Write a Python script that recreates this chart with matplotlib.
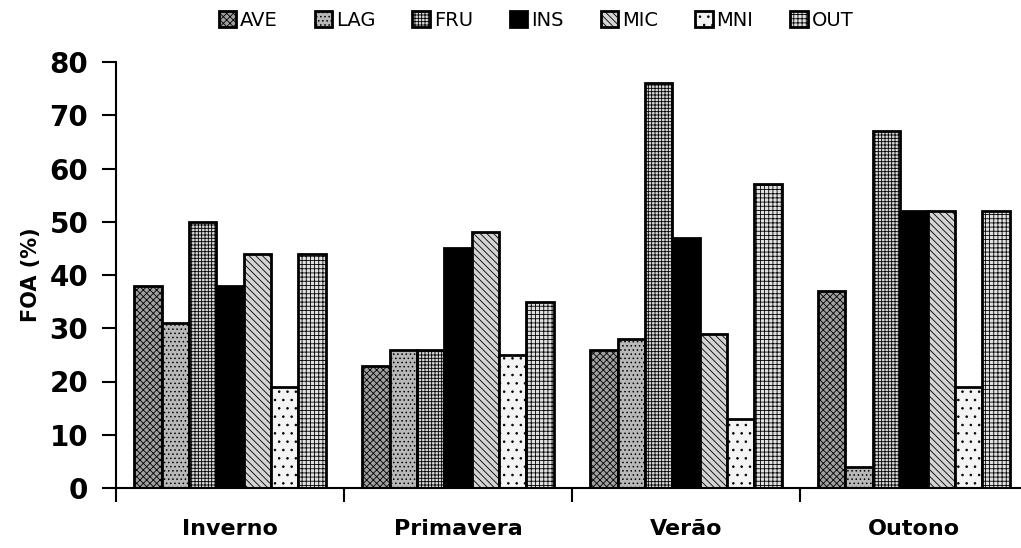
import numpy as np
import matplotlib
matplotlib.use('agg')
from matplotlib import pyplot as plt

seasons = ["Inverno", "Primavera", "Verão", "Outono"]
series = ["AVE", "LAG", "FRU", "INS", "MIC", "MNI", "OUT"]
ave = [38, 23, 26, 37]
lag = [31, 26, 28, 4]
fru = [50, 26, 76, 67]
ins = [38, 45, 47, 52]
mic = [44, 48, 29, 52]
mni = [19, 25, 13, 19]
out = [44, 35, 57, 52]
values = [ave, lag, fru, ins, mic, mni, out]

faces = ["#a0a0a0", "#b8b8b8", "#d8d8d8", "#000000", "#d4d4d4", "#f4f4f4", "#e0e0e0"]
hatches = ["xxxxx", "....", "+++++", "", "\\\\\\\\\\", "..", "++++"]

plt.rcParams['hatch.linewidth'] = 0.6
plt.rcParams['font.family'] = ['DejaVu Sans']

fig = plt.figure(figsize=(10.21, 5.48), dpi=100)
ax = fig.add_axes([116/1021, 60/548, 905/1021, 426/548])

x = np.arange(len(seasons))
w = 0.12
for i, (name, v) in enumerate(zip(series, values)):
    ax.bar(x + (i - 3) * w, v, w, facecolor=faces[i], edgecolor='black',
           hatch=hatches[i], linewidth=2, label=name)

ax.set_xlim(-0.5, 3.47)
ax.set_ylim(0, 80)
ax.set_yticks(range(0, 81, 10))
ax.tick_params(axis='y', labelsize=20, width=1.5, length=10, pad=10)
for t in ax.get_yticklabels():
    t.set_fontweight('bold')
ax.set_xticks(x)
ax.set_xticklabels(seasons, fontsize=16, fontweight='bold')
ax.tick_params(axis='x', length=0, pad=22)
ax.set_xticks(np.arange(-0.5, 3.5, 1), minor=True)
ax.tick_params(axis='x', which='minor', length=10, width=1.5)
ax.spines['top'].set_visible(False)
ax.spines['right'].set_visible(False)
ax.spines['left'].set_linewidth(1.5)
ax.spines['bottom'].set_linewidth(1.5)
ax.set_ylabel("FOA (%)", fontsize=15, fontweight='bold', labelpad=6)

fig.legend(loc='upper center', bbox_to_anchor=(0.525, 1.012), ncol=7, frameon=False,
           fontsize=14, handlelength=0.9, handleheight=0.9, handletextpad=0.2,
           columnspacing=1.9)

plt.savefig('out.png', dpi=100)
